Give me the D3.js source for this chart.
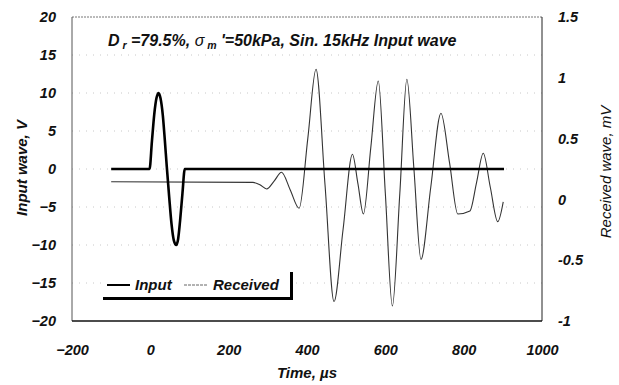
<!DOCTYPE html>
<html><head><meta charset="utf-8">
<script src="https://cdn.jsdelivr.net/npm/d3@7"></script>
<style>
html,body{margin:0;padding:0;background:#fff;}
text{font-family:"Liberation Sans",Arial,sans-serif;font-style:italic;fill:#111;}
</style></head>
<body>
<svg id="c" width="619" height="385"></svg>
<script>
// ---- data ----
const xTicks = [-200, 0, 200, 400, 600, 800, 1000];
const leftTicks = [-20, -15, -10, -5, 0, 5, 10, 15, 20];
const rightTicks = [-1, -0.5, 0, 0.5, 1, 1.5];
const rightTickLabels = ["-1", "-0.5", "0", "0.5", "1", "1.5"];

// Input wave (V) vs time (µs)
const inputTime  = [-100, -2, 4, 10, 16, 21, 26, 32, 37, 42, 48, 54, 60, 66, 71, 76, 82, 88, 903];
const inputValue = [0, 0, 3.6, 7.2, 9.4, 10, 9.3, 7.0, 3.8, 0.3, -3.6, -7.2, -9.4, -10, -9.2, -6.8, -3.2, 0, 0];

// Received wave (mV) vs time (µs)
const recvTime  = [-100, 262, 280, 297, 316, 335, 357, 380, 402, 423, 446, 469, 492, 516, 530, 544, 563, 582, 600, 618, 637, 655, 673, 691, 716, 742, 764, 785, 816, 833, 850, 868, 887, 901];
const recvValue = [0.145, 0.14, 0.12, 0.086, 0.15, 0.223, 0.08, -0.073, 0.5, 1.07, 0.12, -0.84, -0.25, 0.371, 0.13, -0.12, 0.43, 0.974, 0.05, -0.877, 0.05, 0.988, 0.25, -0.493, 0.1, 0.708, 0.3, -0.12, -0.095, 0.14, 0.379, 0.1, -0.183, -0.02];

const series = ["Input", "Received"];

// ---- layout ----
const svg = d3.select("#c");
const L = 72, R = 542, T = 17, B = 321;
const x = d3.scaleLinear().domain([-200, 1000]).range([L, R]);
const yL = d3.scaleLinear().domain([-20, 20]).range([B, T]);
const yR = d3.scaleLinear().domain([-1, 1.5]).range([B, T]);

// faint dotted grid
svg.append("g").selectAll("line").data(leftTicks.filter(d => d > -20 && d < 20)).join("line")
  .attr("x1", L).attr("x2", R).attr("y1", d => yL(d)).attr("y2", d => yL(d))
  .attr("stroke", "#c8c8c8").attr("stroke-width", 1).attr("stroke-dasharray", "1,6");

// frame
svg.append("line").attr("x1", L).attr("x2", R).attr("y1", T).attr("y2", T).attr("stroke", "#777").attr("stroke-width", 1).attr("stroke-dasharray", "2,1");
svg.append("line").attr("x1", L).attr("x2", L).attr("y1", T).attr("y2", B).attr("stroke", "#555").attr("stroke-width", 1);
svg.append("line").attr("x1", R).attr("x2", R).attr("y1", T).attr("y2", B).attr("stroke", "#222").attr("stroke-width", 1);
svg.append("line").attr("x1", L).attr("x2", R).attr("y1", B).attr("y2", B).attr("stroke", "#111").attr("stroke-width", 1.6);

// axes (labels only)
const fs = 14.5;
const gx = svg.append("g").attr("transform", `translate(0,${B})`)
  .call(d3.axisBottom(x).tickValues(xTicks).tickSize(0).tickPadding(24).tickFormat(d3.format("d")));
const gl = svg.append("g").attr("transform", `translate(${L},0)`)
  .call(d3.axisLeft(yL).tickValues(leftTicks).tickSize(0).tickPadding(16).tickFormat(d3.format("d")));
const gr = svg.append("g").attr("transform", `translate(${R},0)`)
  .call(d3.axisRight(yR).tickValues(rightTicks).tickSize(0).tickPadding(16).tickFormat((d, i) => rightTickLabels[i]));
[gx, gl, gr].forEach(g => {
  g.select(".domain").remove();
  g.selectAll("text").style("font-size", fs + "px").style("font-family", "'Liberation Sans',Arial,sans-serif")
    .style("font-style", "italic").style("font-weight", "bold").style("fill", "#111");
});

// lines
const lineIn = d3.line().x(d => x(d[0])).y(d => yL(d[1])).curve(d3.curveMonotoneX);
const lineRv = d3.line().x(d => x(d[0])).y(d => yR(d[1])).curve(d3.curveMonotoneX);
svg.append("path").datum(recvTime.map((t, i) => [t, recvValue[i]]))
  .attr("d", lineRv).attr("fill", "none").attr("stroke", "#333").attr("stroke-width", 1.1);
svg.append("path").datum(inputTime.map((t, i) => [t, inputValue[i]]))
  .attr("d", lineIn).attr("fill", "none").attr("stroke", "#000").attr("stroke-width", 2.6);

// title
const title = svg.append("text").attr("x", 108).attr("y", 46).style("font-size", "16px").style("font-weight", "bold");
title.append("tspan").text("D");
title.append("tspan").style("font-size", "10.5px").attr("dy", 3).text(" r");
title.append("tspan").attr("dy", -3).text(" =79.5%,  ");
title.append("tspan").style("font-weight", "normal").text("σ");
title.append("tspan").style("font-size", "10.5px").attr("dy", 3).text(" m");
title.append("tspan").attr("dy", -3).text(" '=50kPa, Sin. 15kHz Input wave");

// axis titles
svg.append("text").attr("x", 307).attr("y", 378).attr("text-anchor", "middle").style("font-size", "15px").style("font-weight", "bold").text("Time, µs");
svg.append("text").attr("transform", "translate(27,168) rotate(-90)").attr("text-anchor", "middle").style("font-size", "15px").style("font-weight", "bold").text("Input wave, V");
svg.append("text").attr("transform", "translate(611,172) rotate(-90)").attr("text-anchor", "middle").style("font-size", "15px").style("font-weight", "normal").text("Received wave, mV");

// legend
const lg = svg.append("g");
lg.append("rect").attr("x", 103).attr("y", 272).attr("width", 188).attr("height", 26).attr("fill", "#fff");
lg.append("line").attr("x1", 103).attr("x2", 293).attr("y1", 298.5).attr("y2", 298.5).attr("stroke", "#000").attr("stroke-width", 3);
lg.append("line").attr("x1", 291.5).attr("x2", 291.5).attr("y1", 272).attr("y2", 300).attr("stroke", "#000").attr("stroke-width", 3);
const legendX = [107, 184];
const legendTextX = [135, 213];
series.forEach((s, i) => {
  lg.append("line").attr("x1", legendX[i]).attr("x2", legendX[i] + 23).attr("y1", 285).attr("y2", 285)
    .attr("stroke", i === 0 ? "#000" : "#666").attr("stroke-width", i === 0 ? 2 : 1)
    .attr("stroke-dasharray", i === 0 ? null : "3,1");
  lg.append("text").attr("x", legendTextX[i]).attr("y", 290).style("font-size", "15px").style("font-weight", "bold").text(s);
});
</script>
</body></html>
